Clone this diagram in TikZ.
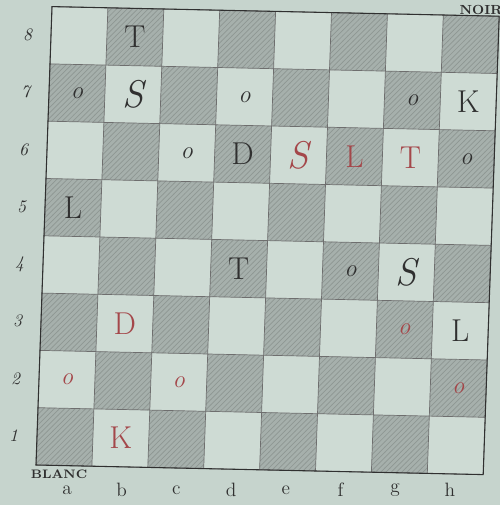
\documentclass[tikz,border=0pt]{standalone}
\usepackage{tikz}
\usetikzlibrary{patterns}

\definecolor{paper}{HTML}{C6D4CD}
\definecolor{lightsq}{HTML}{CEDBD4}
\definecolor{darksq}{HTML}{A6B0AC}
\definecolor{hatch}{HTML}{8E9793}
\definecolor{ink}{HTML}{303030}
\definecolor{redink}{HTML}{A4474A}

\tikzset{
  piece/.style={font=\fontsize{18}{18}\selectfont, inner sep=0pt},
  knight/.style={font=\fontsize{22}{22}\selectfont\itshape, inner sep=0pt},
  pawn/.style={font=\fontsize{14}{14}\selectfont\itshape, inner sep=0pt},
  blackpc/.style={text=ink},
  whitepc/.style={text=redink},
}

\begin{document}
\begin{tikzpicture}[x=0.02cm,y=0.02cm,every node/.style={font=\small}]
  \fill[paper] (0,0) rectangle (500,505);
  \useasboundingbox (0,0) rectangle (500,505);
  \begin{scope}[cm={55.9,-1.2,2,57.3,(36,40)}]
    \fill[lightsq] (0,0) rectangle (8,8);
    \foreach \r in {0,...,7}
      \foreach \c in {0,2,4,6} {
        \pgfmathtruncatemacro{\cc}{\c+mod(\r,2)}
        \fill[darksq] (\cc,\r) rectangle ++(1,1);
        \fill[pattern=north east lines,pattern color=hatch] (\cc,\r) rectangle ++(1,1);
      }
    \foreach \k in {0,...,8} {
      \draw[ink!70,line width=0.4pt] (\k,0) -- (\k,8);
      \draw[ink!70,line width=0.4pt] (0,\k) -- (8,\k);
    }
    \draw[ink,line width=0.6pt] (0,0) rectangle (8,8);
    % rank numbers
    \foreach \r in {1,...,8}
      \node[font=\fontsize{10}{10}\selectfont\itshape,text=ink] (rank\r) at (-0.42,\r-0.5) {\r};
    % black men
    \node[piece,blackpc] (b8) at (1.5,7.5) {T};
    \node[pawn,blackpc] (a7) at (0.5,6.5) {o};
    \node[knight,blackpc] (b7) at (1.5,6.5) {S};
    \node[pawn,blackpc] (d7) at (3.5,6.5) {o};
    \node[pawn,blackpc] (g7) at (6.5,6.5) {o};
    \node[piece,blackpc] (h7) at (7.5,6.5) {K};
    \node[pawn,blackpc] (c6) at (2.5,5.5) {o};
    \node[piece,blackpc] (d6) at (3.5,5.5) {D};
    \node[pawn,blackpc] (h6) at (7.5,5.5) {o};
    \node[piece,blackpc] (a5) at (0.5,4.5) {L};
    \node[piece,blackpc] (d4) at (3.5,3.5) {T};
    \node[pawn,blackpc] (f4) at (5.5,3.5) {o};
    \node[knight,blackpc] (g4) at (6.5,3.5) {S};
    \node[piece,blackpc] (h3) at (7.5,2.5) {L};
    % white men
    \node[knight,whitepc] (e6) at (4.5,5.5) {S};
    \node[piece,whitepc] (f6) at (5.5,5.5) {L};
    \node[piece,whitepc] (g6) at (6.5,5.5) {T};
    \node[piece,whitepc] (b3) at (1.5,2.5) {D};
    \node[pawn,whitepc] (g3) at (6.5,2.5) {o};
    \node[pawn,whitepc] (a2) at (0.5,1.5) {o};
    \node[pawn,whitepc] (c2) at (2.5,1.5) {o};
    \node[pawn,whitepc] (h2) at (7.5,1.5) {o};
    \node[piece,whitepc] (b1) at (1.5,0.5) {K};
  \end{scope}
  % file letters
  \foreach \f [count=\i from 0] in {a,...,h}
    \node[font=\fontsize{11}{11}\selectfont,text=ink] (file\f) at (67+54.7*\i,15) {\f};
  \node[font=\fontsize{7}{7}\selectfont\bfseries,text=ink] (blanc) at (59,31) {BLANC};
  \node[font=\fontsize{7.5}{7.5}\selectfont\bfseries,text=ink] (noir) at (481,495) {NOIR};
\end{tikzpicture}
\end{document}
